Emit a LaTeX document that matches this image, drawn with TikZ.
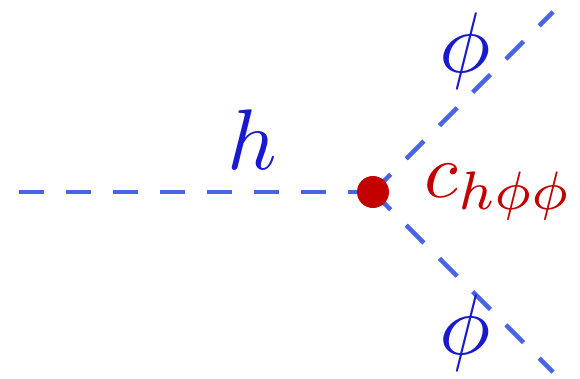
\documentclass[tikz,border=0pt]{standalone}
\usetikzlibrary{calc}
\definecolor{linecol}{RGB}{70,100,228}
\definecolor{labcol}{RGB}{25,25,205}
\definecolor{vred}{RGB}{195,0,0}
\tikzset{
  scalar/.style={draw=linecol, line width=4.5pt, dash pattern=on 25pt off 22pt},
  lab/.style={text=labcol, scale=8.6, inner sep=0pt},
  vtx/.style={circle, fill=vred, minimum size=32pt, inner sep=0pt},
}
\begin{document}
\begin{tikzpicture}[x=1pt,y=-1pt]
\useasboundingbox (0,0) rectangle (580,378);
\coordinate (in) at (15,192);
\coordinate (vc) at (373,192);
\coordinate (o1) at (553,12);
\coordinate (o2) at (553,372);
\draw[scalar] (vc) -- (in);
\draw[scalar] (vc) -- (o1);
\draw[scalar] (vc) -- (o2);
\node[vtx] (v) at (vc) {};
\node[lab] (h) at (252,140) {$h$};
\node[lab] (p1) at (465,51) {$\phi$};
\node[lab] (p2) at (465,333) {$\phi$};
\node[lab, scale=0.9, text=vred, anchor=west] (c) at (423,192) {$c_{h\phi\phi}$};
\end{tikzpicture}
\end{document}
